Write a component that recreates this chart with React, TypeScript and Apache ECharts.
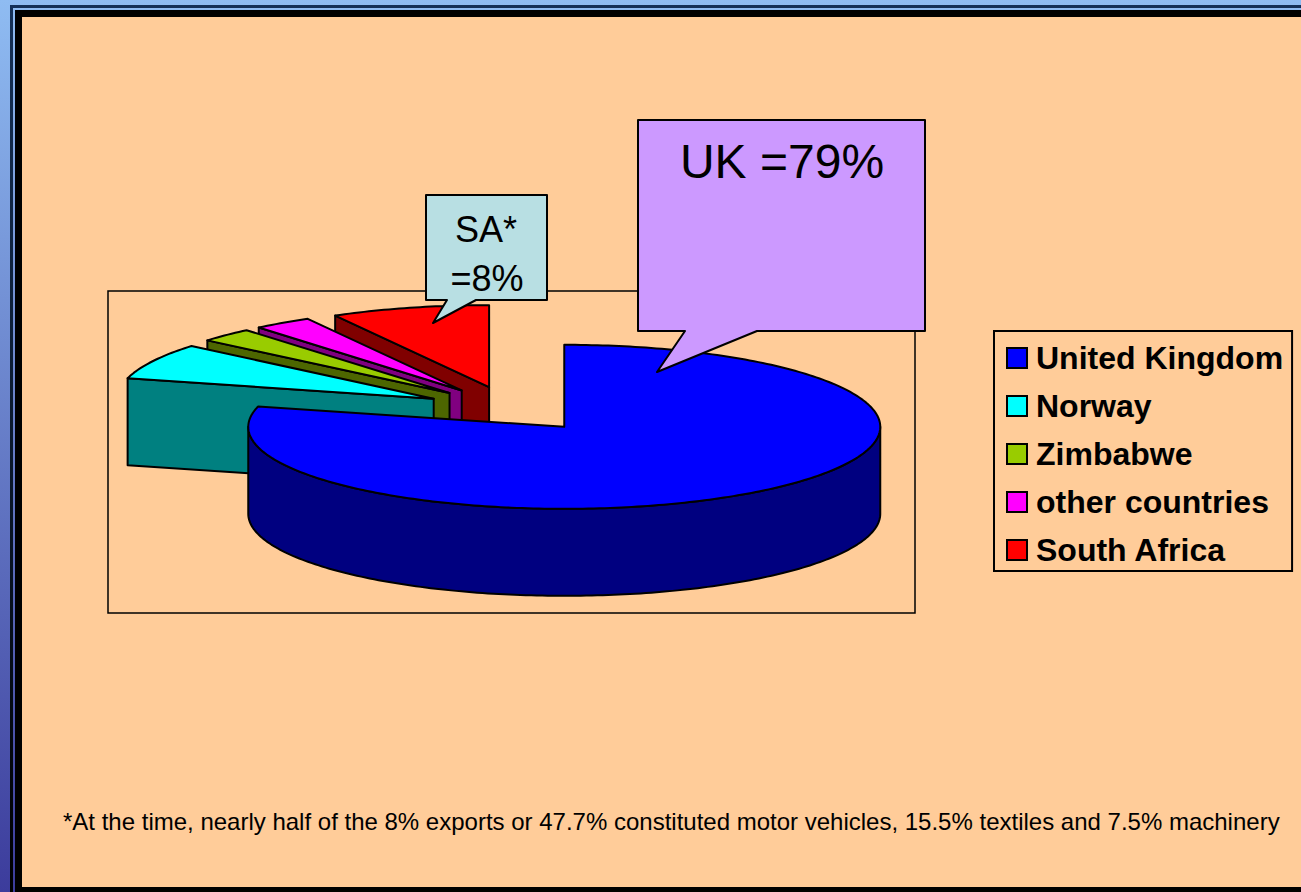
import React, { useEffect, useRef } from "react";
import * as echarts from "echarts";

const categories = ["United Kingdom", "Norway", "Zimbabwe", "other countries", "South Africa"];
const shares = [79, 7.1, 2.8, 3.0, 8.1];
const topColors = ["#0000ff", "#00ffff", "#99cc00", "#ff00ff", "#ff0000"];
const sideColors = ["#000080", "#008080", "#4d6600", "#800080", "#800000"];
const footnote =
  "*At the time, nearly half of the 8% exports or 47.7% constituted motor vehicles, 15.5% textiles and 7.5% machinery";

const FONT = '"Liberation Sans", Arial, sans-serif';
const PIE = { cx: 511, cy: 409, rx: 316, ry: 82, depth: 87, explode: 0.275 };
const STROKE = { stroke: "#000", lineWidth: 2, lineJoin: "round" as const };

const total = shares.reduce((a, b) => a + b, 0);
const starts = shares.map((_, i) => shares.slice(0, i).reduce((a, b) => a + b, 0));

const rad = (share: number) => (share / total) * 2 * Math.PI;

function renderSlice(color: string, side: string) {
  return (_params: any, api: any) => {
    const start = rad(api.value(0));
    const end = start + rad(api.value(1));
    const mid = (start + end) / 2;
    const ox = PIE.cx + PIE.explode * PIE.rx * Math.sin(mid);
    const oy = PIE.cy - PIE.explode * PIE.ry * Math.cos(mid);
    const at = (a: number, dz = 0): number[] => [
      ox + PIE.rx * Math.sin(a),
      oy - PIE.ry * Math.cos(a) + dz,
    ];
    const arc = (a: number, b: number, dz = 0) => {
      const n = Math.max(2, Math.ceil(Math.abs(b - a) / (Math.PI / 180)));
      const pts: number[][] = [];
      for (let i = 0; i <= n; i++) pts.push(at(a + ((b - a) * i) / n, dz));
      return pts;
    };
    const children: any[] = [];
    const poly = (points: number[][], fill: string) =>
      children.push({ type: "polygon", shape: { points }, style: { fill, ...STROKE } });
    const face = (a: number) => {
      const p = at(a);
      poly([[ox, oy], p, [p[0], p[1] + PIE.depth], [ox, oy + PIE.depth]], side);
    };
    if (Math.sin(start) < -1e-9) face(start);
    if (Math.sin(end) > 1e-9) face(end);
    const r0 = Math.max(start, Math.PI / 2);
    const r1 = Math.min(end, (3 * Math.PI) / 2);
    if (r1 > r0) poly([...arc(r0, r1), ...arc(r1, r0, PIE.depth)], side);
    poly([[ox, oy], ...arc(start, end)], color);
    return { type: "group", children };
  };
}

const backgroundGradient = () =>
  new echarts.graphic.LinearGradient(
    0, 0, 0, 892,
    [
      { offset: 0, color: "#8fbcf2" },
      { offset: 1, color: "#3c3c9c" },
    ],
    true
  );

const lineGradient = () =>
  new echarts.graphic.LinearGradient(
    0, 0, 0, 892,
    [
      { offset: 0, color: "#143058" },
      { offset: 1, color: "#000000" },
    ],
    true
  );

export default function App() {
  const ref = useRef<HTMLDivElement>(null);
  useEffect(() => {
    document.body.style.margin = "0";
    const chart = echarts.init(ref.current!, null, { renderer: "svg" });
    const order = categories.map((_, i) => i).reverse();
    chart.setOption({
      animation: false,
      legend: {
        show: true,
        left: 994,
        top: 331,
        orient: "vertical",
        data: categories,
        icon: "rect",
        itemWidth: 20,
        itemHeight: 20,
        itemGap: 16,
        padding: [11, 9, 5, 12],
        borderColor: "#000",
        borderWidth: 2,
        selectedMode: false,
        itemStyle: { borderColor: "#000", borderWidth: 2 },
        textStyle: {
          fontFamily: FONT,
          fontSize: 32,
          fontWeight: "bold",
          color: "#000",
          padding: [0, 0, 0, 4],
        },
      },
      graphic: [
        { type: "rect", z: -10, silent: true, shape: { x: 0, y: 0, width: 1301, height: 892 }, style: { fill: backgroundGradient() } },
        { type: "rect", z: -9, silent: true, shape: { x: 10, y: 5, width: 1291, height: 887 }, style: { fill: lineGradient() } },
        { type: "rect", z: -8, silent: true, shape: { x: 13, y: 8, width: 1288, height: 884 }, style: { fill: backgroundGradient() } },
        { type: "rect", z: -7, silent: true, shape: { x: 15, y: 10, width: 1286, height: 882 }, style: { fill: "#000" } },
        { type: "rect", z: -6, silent: true, shape: { x: 22, y: 17, width: 1279, height: 870 }, style: { fill: "#ffcc99" } },
        { type: "rect", z: -5, silent: true, shape: { x: 108, y: 291, width: 807, height: 322 }, style: { fill: "none", stroke: "#000", lineWidth: 1.5 } },
        {
          type: "polygon", z: 20, silent: true,
          shape: { points: [[638, 120], [925, 120], [925, 331], [757, 331], [657, 372], [685, 331], [638, 331]] },
          style: { fill: "#cc99ff", ...STROKE },
        },
        { type: "text", z: 21, silent: true, x: 782, y: 161, style: { text: "UK =79%", font: `48px ${FONT}`, fill: "#000", textAlign: "center", textVerticalAlign: "middle" } },
        {
          type: "polygon", z: 20, silent: true,
          shape: { points: [[426, 195], [547, 195], [547, 300], [476, 300], [433, 323], [447, 300], [426, 300]] },
          style: { fill: "#b8dfe3", ...STROKE },
        },
        { type: "text", z: 21, silent: true, x: 486, y: 229, style: { text: "SA*", font: `36px ${FONT}`, fill: "#000", textAlign: "center", textVerticalAlign: "middle" } },
        { type: "text", z: 21, silent: true, x: 487, y: 278, style: { text: "=8%", font: `36px ${FONT}`, fill: "#000", textAlign: "center", textVerticalAlign: "middle" } },
        { type: "text", z: 21, silent: true, x: 63, y: 821, style: { text: footnote, font: `24px ${FONT}`, fill: "#000", textAlign: "left", textVerticalAlign: "middle" } },
      ],
      series: order.map((i, k) => ({
        type: "custom",
        name: categories[i],
        coordinateSystem: "none",
        z: 2 + k,
        silent: true,
        itemStyle: { color: topColors[i] },
        data: [[starts[i], shares[i]]],
        renderItem: renderSlice(topColors[i], sideColors[i]),
      })),
    });
    return () => chart.dispose();
  }, []);
  return <div ref={ref} style={{ position: "absolute", left: 0, top: 0, width: 1301, height: 892 }} />;
}
